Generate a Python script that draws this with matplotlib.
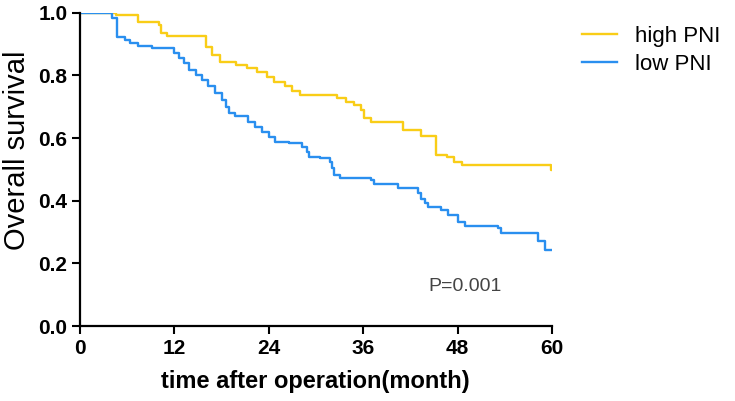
import matplotlib
matplotlib.use("Agg")
import matplotlib.pyplot as plt

plt.rcParams['font.family'] = ['Liberation Sans', 'DejaVu Sans']

# step points (time in months, survival)
high_t = [0, 4.5, 7.3, 10.0, 10.3, 11.0, 16.0, 16.8, 17.8, 19.8, 21.2, 22.5,
          23.8, 24.7, 26.0, 27.0, 28.0, 32.7, 33.8, 34.8, 35.7, 36.1, 37.0,
          41.0, 43.3, 45.2, 46.7, 47.6, 48.5, 59.9, 60]
high_s = [1.0, 0.994, 0.972, 0.962, 0.935, 0.926, 0.892, 0.866, 0.844, 0.834,
          0.823, 0.812, 0.796, 0.780, 0.765, 0.752, 0.738, 0.727, 0.716, 0.706,
          0.690, 0.664, 0.653, 0.626, 0.607, 0.546, 0.541, 0.525, 0.514, 0.498,
          0.498]

low_t = [0, 4.0, 4.7, 5.7, 6.4, 7.4, 9.2, 12.0, 12.6, 13.2, 13.8, 14.7, 15.5,
         16.3, 17.2, 18.1, 18.6, 18.9, 19.7, 21.4, 22.3, 23.1, 24.0, 24.8,
         26.5, 28.2, 28.8, 29.1, 30.5, 31.8, 32.0, 32.3, 33.1, 37.0, 37.4,
         40.4, 42.9, 43.3, 43.8, 44.2, 45.9, 46.8, 48.1, 48.9, 53.1, 53.5,
         58.2, 59.1, 60]
low_s = [1.0, 0.984, 0.922, 0.914, 0.905, 0.895, 0.887, 0.871, 0.855, 0.839,
         0.818, 0.802, 0.786, 0.765, 0.743, 0.722, 0.700, 0.680, 0.669, 0.653,
         0.637, 0.621, 0.605, 0.589, 0.584, 0.573, 0.557, 0.541, 0.536, 0.525,
         0.503, 0.482, 0.472, 0.466, 0.454, 0.440, 0.424, 0.407, 0.392, 0.381,
         0.371, 0.355, 0.333, 0.318, 0.312, 0.296, 0.270, 0.243, 0.243]

x_ticks = [0, 12, 24, 36, 48, 60]
y_ticks = [0.0, 0.2, 0.4, 0.6, 0.8, 1.0]

fig = plt.figure(figsize=(7.35, 4.01), dpi=100)
ax = fig.add_axes([0.109, 0.187, 0.642, 0.781])

ax.plot(high_t, high_s, drawstyle="steps-post", color="#F9CD17", lw=1.7, label="high PNI")
ax.plot(low_t, low_s, drawstyle="steps-post", color="#2A8FEF", lw=1.7, label="low PNI")

ax.set_xlim(0, 60)
ax.set_ylim(0, 1.0)
ax.set_xticks(x_ticks)
ax.set_yticks(y_ticks)
ax.set_xticklabels([str(v) for v in x_ticks], fontsize=15, fontweight="bold")
ax.set_yticklabels([f"{v:.1f}" for v in y_ticks], fontsize=15, fontweight="bold")
ax.tick_params(direction="out", length=6, width=1.5, pad=3)

for side in ["top", "right"]:
    ax.spines[side].set_visible(False)
for side in ["left", "bottom"]:
    ax.spines[side].set_linewidth(1.6)

ax.set_xlabel("time after operation(month)", fontsize=17, fontweight="bold")
ax.xaxis.set_label_coords(0.498, -0.141)
ax.set_ylabel("Overall survival", fontsize=21)
ax.yaxis.set_label_coords(-0.104, 0.56)

ax.text(49, 0.125, "P=0.001", fontsize=14, color="#444444", ha="center", va="center")

ax.legend(loc="upper left", bbox_to_anchor=(1.022, 1.023), frameon=False,
          fontsize=16, handlelength=1.55, handletextpad=0.8, labelspacing=0.32)

fig.savefig("out.png", dpi=100)
